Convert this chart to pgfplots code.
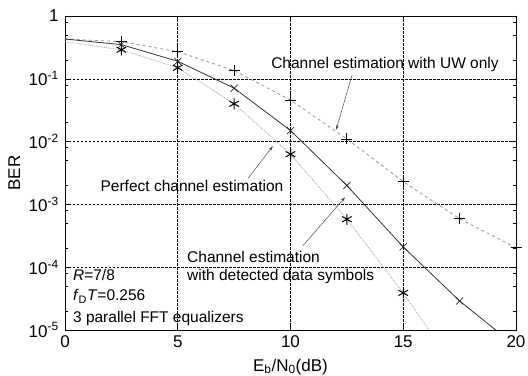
\documentclass[border=0pt]{standalone}
\usepackage{pgfplots}
\pgfplotsset{compat=1.18}
\usepackage{fontspec}
\setmainfont{Liberation Sans}
\usetikzlibrary{arrows.meta}
\begin{document}
\fontsize{15.5}{18}\selectfont
\begin{tikzpicture}
\begin{axis}[
  scale only axis, width=451pt, height=314pt,
  ymode=log, xmin=0, xmax=20, ymin=1e-5, ymax=1,
  xtick={0,5,10,15,20},
  ytick={1e-5,1e-4,1e-3,1e-2,1e-1,1},
  yticklabels={10\textsuperscript{-5},10\textsuperscript{-4},10\textsuperscript{-3},10\textsuperscript{-2},10\textsuperscript{-1},1},
  minor ytick={2e-5,5e-5,8e-5,2e-4,5e-4,8e-4,2e-3,5e-3,8e-3,2e-2,5e-2,8e-2,2e-1,5e-1,8e-1},
  /pgf/number format/assume math mode=true,
  tick label style={font=\fontsize{17}{19}\selectfont, black},
  yticklabel style={xshift=-1pt},
  label style={font=\fontsize{17}{19}\selectfont},
  xlabel={E\textsubscript{b}/N\textsubscript{0}(dB)},
  ylabel={BER},
  xlabel style={yshift=-1pt},
  ylabel style={yshift=-2pt},
  grid=major,
  major grid style={black, line width=0.5pt, dash pattern=on 2.5pt off 1.5pt},
  tick style={black, line width=0.5pt},
  major tick length=4pt, minor tick length=3pt,
  tick align=inside,
  axis line style={black, line width=0.8pt},
  clip=true,
]
% Channel estimation with UW only
\addplot[gray!85, dashed, line width=0.8pt, mark=+, mark size=5.5pt, mark indices={2,...,9}, mark options={black, solid, line width=0.8pt}]
coordinates {(0,0.43) (2.5,0.39) (5,0.27) (7.5,0.135) (10,0.046) (12.5,0.011) (15,0.0023) (17.5,0.00059) (20,0.000204)};
% detected data symbols
\addplot[black!80, line width=0.8pt, mark=x, mark size=5pt, mark indices={2,...,9}, mark options={black!85, line width=0.7pt}]
coordinates {(0,0.43) (2.5,0.35) (5,0.19) (7.5,0.071) (10,0.015) (12.5,0.002) (15,0.00021) (17.5,0.000029) (20,0.0000055)};
% Perfect channel estimation
\addplot[gray!75, densely dotted, line width=0.8pt, mark=asterisk, mark size=5.5pt, mark indices={2,...,8}, mark options={black, solid, line width=1pt}]
coordinates {(0,0.39) (2.5,0.29) (5,0.15) (7.5,0.04) (10,0.0063) (12.5,0.00058) (15,0.000039) (17.5,0.000002)};

\node at (axis cs:14.19,0.166) {Channel estimation with UW only};
\draw[black!70, line width=0.5pt, -{Stealth[length=5pt,width=3pt]}] (axis cs:12.73,0.115) -- (axis cs:12.02,0.0153);
\node at (axis cs:5.63,0.00196) {Perfect channel estimation};
\draw[black!70, line width=0.5pt, -{Stealth[length=5pt,width=3pt]}] (axis cs:8.12,0.0026) -- (axis cs:9.22,0.0085);
\node[anchor=west, align=left, inner sep=0pt] at (axis cs:5.41,0.0001) {Channel estimation\\with detected data symbols};
\draw[black!70, line width=0.5pt, -{Stealth[length=5pt,width=3pt]}] (axis cs:10.55,0.00022) -- (axis cs:12.42,0.0013);
\node[anchor=west, inner sep=0pt] at (axis cs:0.35,0.000075) {\textit{R}=7/8};
\node[anchor=west, inner sep=0pt] at (axis cs:0.35,0.000034) {\textit{f}\textsubscript{D}\textit{T}=0.256};
\node[anchor=west, inner sep=0pt] at (axis cs:0.35,0.0000155) {3 parallel FFT equalizers};
\end{axis}
\pgfresetboundingbox
\path ([shift={(-65pt,-46pt)}]current axis.south west) rectangle ([shift={(12pt,16pt)}]current axis.north east);
\end{tikzpicture}
\end{document}
